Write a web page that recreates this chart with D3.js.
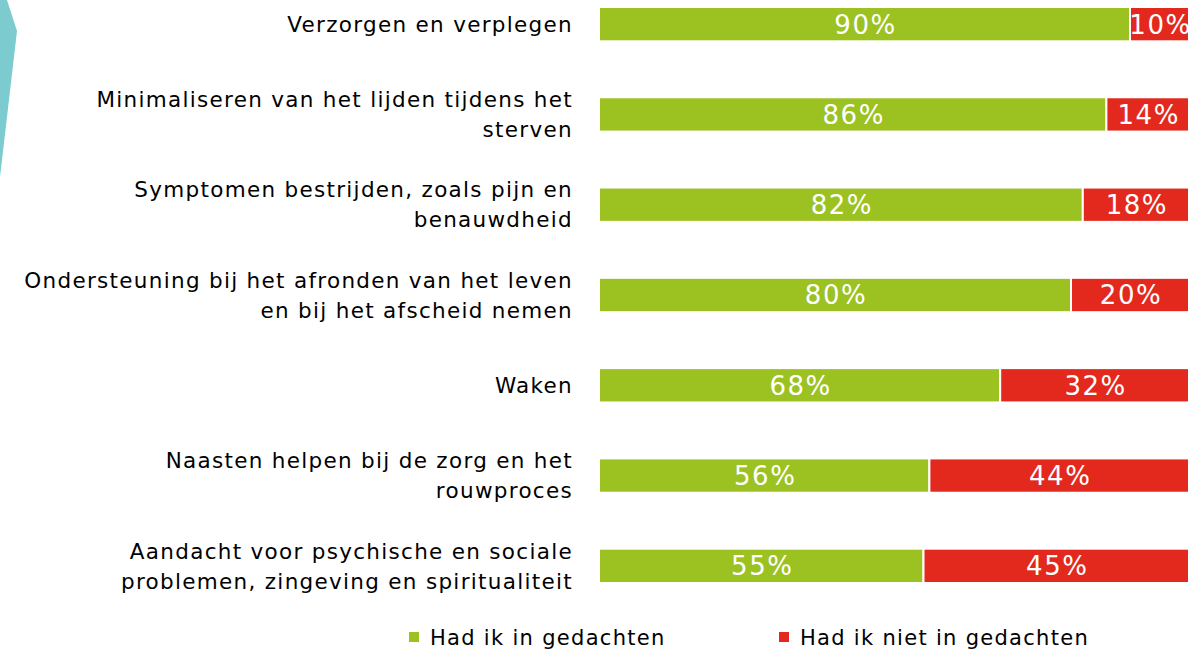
<!DOCTYPE html>
<html>
<head>
<meta charset="utf-8">
<script src="https://cdn.jsdelivr.net/npm/d3@7"></script>
<style>
  body { margin: 0; background: #fff; }
  svg text { font-family: "DejaVu Sans", sans-serif; }
</style>
</head>
<body>
<div id="chart"></div>
<script>
// data
var categories = [
  "Verzorgen en verplegen",
  "Minimaliseren van het lijden tijdens het\nsterven",
  "Symptomen bestrijden, zoals pijn en\nbenauwdheid",
  "Ondersteuning bij het afronden van het leven\nen bij het afscheid nemen",
  "Waken",
  "Naasten helpen bij de zorg en het\nrouwproces",
  "Aandacht voor psychische en sociale\nproblemen, zingeving en spiritualiteit"
];
var hadWel = [90, 86, 82, 80, 68, 56, 55];
var hadNiet = [10, 14, 18, 20, 32, 44, 45];
var seriesNames = ["Had ik in gedachten", "Had ik niet in gedachten"];
var colors = ["#9cc222", "#e3291d"];

var width = 1203, height = 654;

var svg = d3.select("#chart")
  .append("svg")
    .attr("width", width)
    .attr("height", height);

// teal decoration on the left
svg.append("polygon")
  .attr("points", "0,0 7,0 17,31 0,177")
  .attr("fill", "#7bcbcf");

var x = d3.scaleLinear()
  .domain([0, 100])
  .range([599, 1189]);

var y = d3.scaleBand()
  .domain(categories)
  .range([-21, 611])
  .paddingInner(0.62)
  .paddingOuter(0.31);

var rows = categories.map(function(c, i) {
  return {cat: c, vals: [hadWel[i], hadNiet[i]]};
});

var row = svg.selectAll(".row")
  .data(rows)
  .enter()
  .append("g")
    .attr("class", "row");

// segments
row.each(function(d) {
  var g = d3.select(this);
  var start = 0;
  d.vals.forEach(function(v, k) {
    g.append("rect")
      .attr("x", x(start))
      .attr("y", y(d.cat))
      .attr("width", x(start + v) - x(start))
      .attr("height", y.bandwidth())
      .attr("fill", colors[k])
      .attr("stroke", "#fff")
      .attr("stroke-width", 2);
    g.append("text")
      .attr("x", (x(start) + x(start + v)) / 2 + 1)
      .attr("y", y(d.cat) + y.bandwidth() / 2)
      .attr("dy", "0.36em")
      .attr("text-anchor", "middle")
      .attr("fill", "#fff")
      .style("font-size", "26px")
      .style("letter-spacing", "1.5px")
      .text(v + "%");
    start += v;
  });
});

// category labels
row.each(function(d) {
  var lines = d.cat.split("\n");
  var cy = y(d.cat) + y.bandwidth() / 2;
  var lh = 30;
  var t = d3.select(this).append("text")
    .attr("text-anchor", "end")
    .attr("fill", "#000")
    .style("font-size", "21.5px")
    .style("letter-spacing", "1.3px");
  lines.forEach(function(l, j) {
    t.append("tspan")
      .attr("x", 573)
      .attr("y", cy + (j - (lines.length - 1) / 2) * lh)
      .attr("dy", "0.36em")
      .text(l);
  });
});

// legend
var legend = svg.selectAll(".legend")
  .data(seriesNames)
  .enter()
  .append("g")
    .attr("class", "legend")
    .attr("transform", function(d, i) { return "translate(" + (i === 0 ? 409 : 779) + ",637)"; });
legend.append("rect")
  .attr("x", 0)
  .attr("y", -5)
  .attr("width", 10)
  .attr("height", 10)
  .attr("fill", function(d, i) { return colors[i]; });
legend.append("text")
  .attr("x", 21)
  .attr("dy", "0.36em")
  .style("font-size", "21px")
  .style("letter-spacing", "1.3px")
  .text(function(d) { return d; });
</script>
</body>
</html>
